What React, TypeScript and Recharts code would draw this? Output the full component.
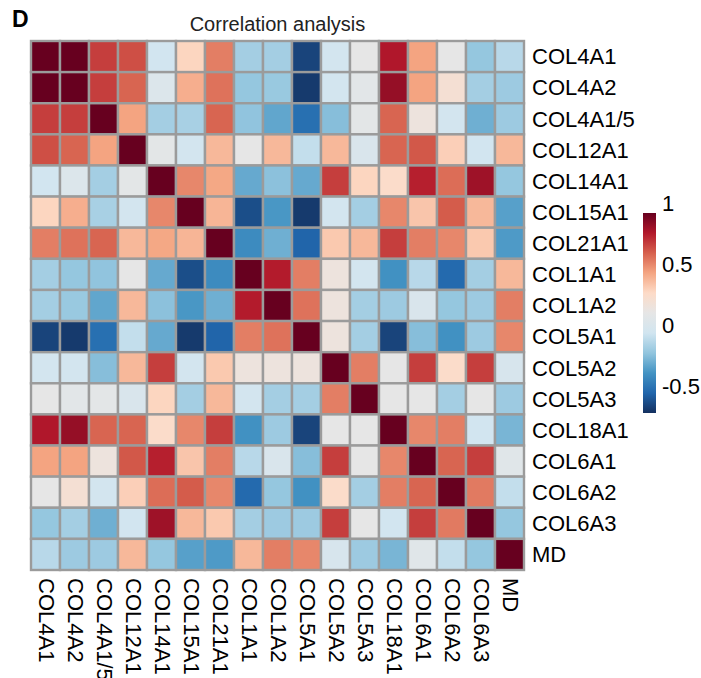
import { ScatterChart, Scatter, XAxis, YAxis } from 'recharts';

const GENES = [
  'COL4A1', 'COL4A2', 'COL4A1/5', 'COL12A1', 'COL14A1', 'COL15A1', 'COL21A1', 'COL1A1',
  'COL1A2', 'COL5A1', 'COL5A2', 'COL5A3', 'COL18A1', 'COL6A1', 'COL6A2', 'COL6A3', 'MD',
];

// correlation rows, same order as GENES
const R_COL4A1 = [1, 0.95, 0.67, 0.63, -0.06, 0.28, 0.52, -0.18, -0.18, -0.66, -0.05, 0.1, 0.76, 0.43, 0.1, -0.22, -0.13];
const R_COL4A2 = [0.95, 1, 0.67, 0.58, 0.02, 0.4, 0.55, -0.22, -0.21, -0.69, -0.05, 0.07, 0.82, 0.43, 0.2, -0.18, -0.2];
const R_COL4A15 = [0.67, 0.67, 1, 0.43, -0.18, -0.17, 0.58, -0.23, -0.33, -0.52, -0.25, 0.08, 0.58, 0.15, -0.05, -0.3, -0.2];
const R_COL12A1 = [0.63, 0.58, 0.43, 1, 0.08, -0.05, 0.37, 0.1, 0.37, -0.1, 0.37, 0.0, 0.58, 0.61, 0.3, -0.06, 0.37];
const R_COL14A1 = [-0.06, 0.02, -0.18, 0.08, 1, 0.5, 0.42, -0.32, -0.24, -0.32, 0.67, 0.28, 0.25, 0.74, 0.56, 0.8, -0.22];
const R_COL15A1 = [0.28, 0.4, -0.17, -0.05, 0.5, 1, 0.38, -0.63, -0.38, -0.69, -0.05, -0.18, 0.5, 0.33, 0.6, 0.37, -0.35];
const R_COL21A1 = [0.52, 0.55, 0.58, 0.37, 0.42, 0.38, 1, -0.42, -0.3, -0.56, 0.32, 0.37, 0.67, 0.52, 0.5, 0.32, -0.37];
const R_COL1A1 = [-0.18, -0.22, -0.23, 0.1, -0.32, -0.63, -0.42, 1, 0.75, 0.52, 0.15, -0.05, -0.4, -0.13, -0.54, -0.18, 0.37];
const R_COL1A2 = [-0.18, -0.21, -0.33, 0.37, -0.24, -0.38, -0.3, 0.75, 1, 0.55, 0.15, -0.18, -0.2, 0.0, -0.22, -0.2, 0.52];
const R_COL5A1 = [-0.66, -0.69, -0.52, -0.1, -0.32, -0.69, -0.56, 0.52, 0.55, 1, 0.15, -0.18, -0.66, -0.25, -0.4, -0.2, 0.5];
const R_COL5A2 = [-0.05, -0.05, -0.25, 0.37, 0.67, -0.05, 0.32, 0.15, 0.15, 0.15, 1, 0.52, 0.1, 0.67, 0.25, 0.67, -0.02];
const R_COL5A3 = [0.1, 0.07, 0.08, 0.0, 0.28, -0.18, 0.37, -0.05, -0.18, -0.18, 0.52, 1, 0.1, 0.1, -0.18, 0.1, -0.2];
const R_COL18A1 = [0.76, 0.82, 0.58, 0.58, 0.25, 0.5, 0.67, -0.4, -0.2, -0.66, 0.1, 0.1, 1, 0.5, 0.52, -0.06, -0.28];
const R_COL6A1 = [0.43, 0.43, 0.15, 0.61, 0.74, 0.33, 0.52, -0.13, 0.0, -0.25, 0.67, 0.1, 0.5, 1, 0.58, 0.67, 0.05];
const R_COL6A2 = [0.1, 0.2, -0.05, 0.3, 0.56, 0.6, 0.5, -0.54, -0.22, -0.4, 0.25, -0.18, 0.52, 0.58, 1, 0.53, -0.1];
const R_COL6A3 = [-0.22, -0.18, -0.3, -0.06, 0.8, 0.37, 0.32, -0.18, -0.2, -0.2, 0.67, 0.1, -0.06, 0.67, 0.53, 1, -0.22];
const R_MD = [-0.13, -0.2, -0.2, 0.37, -0.22, -0.35, -0.37, 0.37, 0.52, 0.5, -0.02, -0.2, -0.28, 0.05, -0.1, -0.22, 1];

const MATRIX = [
  R_COL4A1, R_COL4A2, R_COL4A15, R_COL12A1, R_COL14A1, R_COL15A1, R_COL21A1, R_COL1A1, R_COL1A2,
  R_COL5A1, R_COL5A2, R_COL5A3, R_COL18A1, R_COL6A1, R_COL6A2, R_COL6A3, R_MD,
];

const LEGEND_TICKS = [1, 0.5, 0, -0.5];
const V_MIN = -0.72;
const V_MAX = 0.92;

// RdBu, blue -> red
const PALETTE = [
  '#14305f', '#2166ac', '#4393c3', '#92c5de', '#d1e5f0', '#e6e6e6',
  '#fddbc7', '#f4a582', '#d6604d', '#b2182b', '#67001f',
];

const FONT = '"Liberation Sans", Arial, Helvetica, sans-serif';
const LABEL_SIZE = 22;
const W = 701;
const H = 678;
const M = { top: 41, left: 31, right: 17, bottom: 8 };
const X_AXIS_H = 100;
const Y_AXIS_W = 160;
const CELL_W = (W - M.left - M.right - Y_AXIS_W) / GENES.length;
const CELL_H = (H - M.top - M.bottom - X_AXIS_H) / GENES.length;
const BORDER = '#9b9b9b';

function hexRgb(h: string) {
  return [1, 3, 5].map((i) => parseInt(h.slice(i, i + 2), 16));
}

function colorFor(v: number): string {
  let t = (v - V_MIN) / (V_MAX - V_MIN);
  t = Math.max(0, Math.min(1, t));
  const pos = t * (PALETTE.length - 1);
  const i = Math.min(PALETTE.length - 2, Math.floor(pos));
  const f = pos - i;
  const a = hexRgb(PALETTE[i]);
  const b = hexRgb(PALETTE[i + 1]);
  const c = a.map((x, k) => Math.round(x + (b[k] - x) * f));
  return `rgb(${c[0]},${c[1]},${c[2]})`;
}

const cells = MATRIX.flatMap((row, r) => row.map((v, c) => ({ col: c, row: r, v })));
const idx = GENES.map((_, i) => i);

const HeatCell = (props: any) => {
  const { cx, cy, payload } = props;
  if (cx == null || cy == null) return null;
  return (
    <rect
      x={cx - CELL_W / 2}
      y={cy - CELL_H / 2}
      width={CELL_W}
      height={CELL_H}
      fill={colorFor(payload.v)}
      stroke={BORDER}
      strokeWidth={2.4}
    />
  );
};

const ColTick = (props: any) => {
  const { x, y, payload } = props;
  return (
    <text
      transform={`translate(${x + 1},${y}) rotate(90)`}
      textAnchor="start"
      dominantBaseline="central"
      fontSize={LABEL_SIZE}
      fontFamily={FONT}
      fill="#000"
    >
      {GENES[payload.value]}
    </text>
  );
};

// colour bar geometry
const BAR_X = 643;
const BAR_W = 13;
const BAR_TOP = 213;
const BAR_BOTTOM = 413;
const barY = (v: number) => BAR_TOP + ((V_MAX - v) / (V_MAX - V_MIN)) * (BAR_BOTTOM - BAR_TOP);

export default function App() {
  return (
    <div style={{ position: 'absolute', left: 0, top: 0, width: W, height: H, background: '#fff' }}>
      <ScatterChart width={W} height={H} margin={M}>
        <XAxis
          dataKey="col"
          type="number"
          domain={[-0.5, GENES.length - 0.5]}
          ticks={idx}
          interval={0}
          height={X_AXIS_H}
          axisLine={false}
          tickLine={false}
          tick={<ColTick />}
        />
        <YAxis
          dataKey="row"
          type="number"
          domain={[-0.5, GENES.length - 0.5]}
          reversed
          orientation="right"
          ticks={idx}
          interval={0}
          width={Y_AXIS_W}
          axisLine={false}
          tickLine={false}
          tickFormatter={(i: number) => GENES[i]}
          tick={{ fontSize: LABEL_SIZE, fill: '#000', fontFamily: FONT }}
        />
        <Scatter data={cells} shape={<HeatCell />} isAnimationActive={false} />
      </ScatterChart>

      <svg
        width={W}
        height={H}
        style={{ position: 'absolute', left: 0, top: 0, pointerEvents: 'none' }}
        fontFamily={FONT}
      >
        <defs>
          <linearGradient id="rdbu" x1="0" y1="1" x2="0" y2="0">
            {PALETTE.map((c, i) => (
              <stop key={i} offset={i / (PALETTE.length - 1)} stopColor={c} />
            ))}
          </linearGradient>
        </defs>
        <text x={12} y={27} fontSize={23} fontWeight="bold" fill="#000">D</text>
        <text x={(M.left + M.left + CELL_W * GENES.length) / 2} y={31} fontSize={20} textAnchor="middle" fill="#222">
          Correlation analysis
        </text>
        <rect x={BAR_X} y={BAR_TOP} width={BAR_W} height={BAR_BOTTOM - BAR_TOP} fill="url(#rdbu)" />
        {LEGEND_TICKS.map((t) => (
          <text key={t} x={BAR_X + BAR_W + 6} y={barY(t)} dominantBaseline="central" fontSize={LABEL_SIZE} fill="#000">
            {t}
          </text>
        ))}
      </svg>
    </div>
  );
}
